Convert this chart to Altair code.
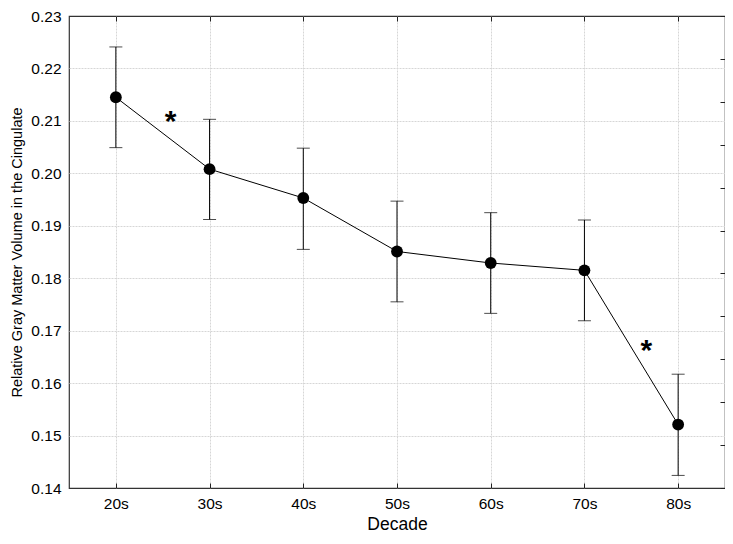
import altair as alt
import pandas as pd

decades = ["20s", "30s", "40s", "50s", "60s", "70s", "80s"]
means = [0.2145, 0.2008, 0.1953, 0.1851, 0.1829, 0.1815, 0.1521]
upper = [0.2241, 0.2103, 0.2048, 0.1947, 0.1925, 0.1911, 0.1617]
lower = [0.2049, 0.1912, 0.1855, 0.1755, 0.1733, 0.1719, 0.1424]
y_ticks = [0.14, 0.15, 0.16, 0.17, 0.18, 0.19, 0.20, 0.21, 0.22, 0.23]
star_x = [0.585, 5.66]
star_y = [0.2106, 0.1668]
right_ticks = list(range(12))

df = pd.DataFrame({"xi": list(range(len(decades))), "decade": decades,
                   "mean": means, "hi": upper, "lo": lower})
stars = pd.DataFrame({"xi": star_x, "y": star_y, "t": ["*", "*"]})
rt = pd.DataFrame({"r": right_ticks, "xi": [0] * len(right_ticks)})

FONT = "Liberation Sans"
GRID = "#d6d6d6"
xscale = alt.Scale(domain=[-0.5, 6.5], nice=False, zero=False)
yscale = alt.Scale(domain=[0.14, 0.23], nice=False, zero=False)

label_expr = "['20s','30s','40s','50s','60s','70s','80s'][round(datum.value)]"

x_main = alt.X("xi:Q", scale=xscale, axis=alt.Axis(
    orient="bottom", values=list(range(7)), labelExpr=label_expr, title="Decade",
    grid=True, gridColor=GRID, gridDash=[2, 1], domain=False,
    ticks=True, tickSize=5, tickColor="#222", offset=-5, labelPadding=8,
    labelFont=FONT, labelFontSize=15.5, labelColor="#000",
    titleFont=FONT, titleFontSize=17.5, titleFontWeight="normal", titleColor="#000",
    titlePadding=4))
y_main = alt.Y("mean:Q", scale=yscale, axis=alt.Axis(
    values=y_ticks, format=".2f", title="Relative Gray Matter Volume in the Cingulate",
    grid=True, gridColor=GRID, gridDash=[2, 1], domain=False, ticks=False,
    gridOpacity={"expr": "(datum.value < 0.1405 || datum.value > 0.2295) ? 0 : 1"},
    labelPadding=8, labelFont=FONT, labelFontSize=15.5, labelColor="#000",
    titleFont=FONT, titleFontSize=14.5, titleFontWeight="normal", titleColor="#000",
    titlePadding=6))

base = alt.Chart(df)
line = base.mark_line(color="#000", strokeWidth=1).encode(x=x_main, y=y_main)
rules = base.mark_rule(color="#000", strokeWidth=1).encode(
    x=alt.X("xi:Q", scale=xscale), y=alt.Y("lo:Q", scale=yscale), y2="hi:Q")
cap_hi = base.mark_tick(color="#000", orient="horizontal", size=13, thickness=1).encode(
    x=alt.X("xi:Q", scale=xscale), y=alt.Y("hi:Q", scale=yscale))
cap_lo = base.mark_tick(color="#000", orient="horizontal", size=13, thickness=1).encode(
    x=alt.X("xi:Q", scale=xscale), y=alt.Y("lo:Q", scale=yscale))
pts = base.mark_circle(color="#000", size=140, opacity=1).encode(
    x=alt.X("xi:Q", scale=xscale), y=alt.Y("mean:Q", scale=yscale))
star_layer = alt.Chart(stars).mark_text(font=FONT, fontSize=30, fontWeight="bold",
                                        color="#000", baseline="middle", dy=4).encode(
    x=alt.X("xi:Q", scale=xscale), y=alt.Y("y:Q", scale=yscale), text="t:N")

main = alt.layer(line, rules, cap_hi, cap_lo, pts, star_layer)

frame = alt.Chart(rt).mark_point(opacity=0).encode(
    x=alt.X("xi:Q", scale=xscale, axis=alt.Axis(
        orient="top", values=list(range(7)), labels=False, title=None, grid=False,
        domain=False, tickSize=5, tickColor="#222", offset=-5)),
    y=alt.Y("r:Q", scale=alt.Scale(domain=[0, 11], nice=False, zero=False), axis=alt.Axis(
        orient="right", values=right_ticks, labels=False, title=None, grid=False,
        domain=False, tickSize=5, tickColor="#222", offset=-5)))

chart = alt.layer(main, frame).resolve_scale(y="independent").resolve_axis(
    x="independent", y="independent").properties(
    width=656, height=472, background="#fff",
    autosize=alt.AutoSizeParams(type="none"),
    padding={"left": 61, "top": 8, "right": 0, "bottom": 48}
).configure_view(stroke="#333", strokeWidth=1.2)

chart.save("out.html", embed_options={"renderer": "svg", "actions": False})
